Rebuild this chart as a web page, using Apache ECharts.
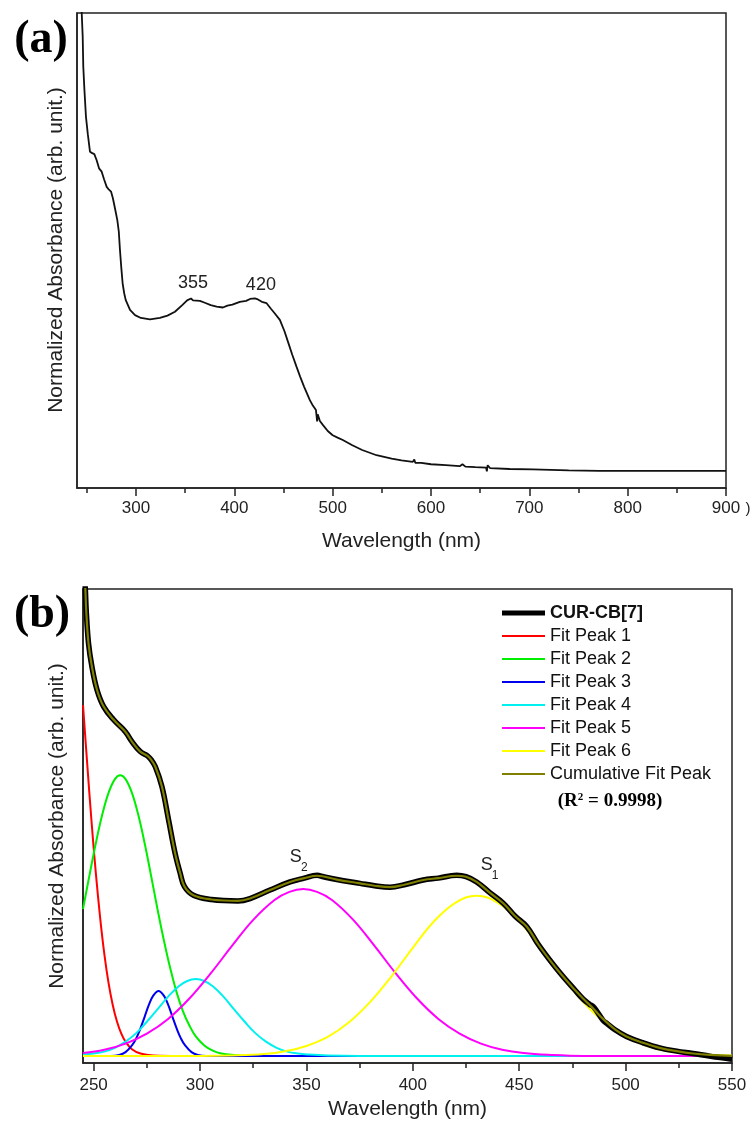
<!DOCTYPE html>
<html>
<head>
<meta charset="utf-8">
<script src="https://cdn.jsdelivr.net/npm/echarts@6/dist/echarts.min.js"></script>
<style>
html,body{margin:0;padding:0;background:#fff;}
#main{width:756px;height:1130px;}
</style>
</head>
<body>
<div id="main"></div>
<script>
var sans = '"Liberation Sans", Arial, sans-serif';
var serif = '"Liberation Serif", "Times New Roman", serif';

// panel (a) ticks
var ticksA = [300, 400, 500, 600, 700, 800, 900];
var minorA = [250, 350, 450, 550, 650, 750, 850];
// panel (b) ticks
var ticksB = [250, 300, 350, 400, 450, 500, 550];
var minorB = [275, 325, 375, 425, 475, 525];

// (a) absorbance spectrum [nm, normalized]
var specA = [[244.3,1.05],[244.8,1.0],[245.8,0.95],[246.4,0.887],[247.5,0.84],[249.1,0.782],[251,0.745],[253.2,0.708],
  [255.5,0.705],[257.6,0.703],[260,0.69],[262.4,0.673],[265.1,0.666],[267.5,0.65],[270.2,0.634],[272.5,0.628],
  [274.6,0.624],[276.5,0.61],[278.6,0.589],[281,0.564],[282.5,0.54],[283.7,0.501],[285,0.465],[286.4,0.431],
  [288,0.41],[289.5,0.396],[291.8,0.385],[293.9,0.375],[299,0.364],[305,0.358],[314.2,0.355],[324.3,0.358],
  [332,0.363],[339.6,0.371],[347,0.385],[352,0.395],[355.9,0.399],[358,0.395],[360,0.397],[365,0.394],
  [370,0.39],[376,0.385],[382,0.382],[388.4,0.38],[393,0.384],[398,0.386],[405.6,0.392],[412,0.394],
  [416,0.398],[420.9,0.399],[424,0.397],[428,0.392],[432.8,0.389],[437,0.378],[441,0.368],[446.3,0.354],
  [451,0.33],[455,0.305],[459,0.28],[463.3,0.255],[467,0.234],[471,0.213],[476.8,0.185],[480,0.173],
  [483,0.164],[483.6,0.168],[484.2,0.14],[484.8,0.155],[487,0.141],[490,0.133],[495,0.12],[500,0.111],
  [505,0.106],[510.3,0.101],[520,0.09],[530,0.08],[544.6,0.069],[560,0.062],[570,0.058],[581.5,0.055],
  [583,0.06],[584,0.053],[590,0.053],[600,0.05],[615,0.048],[629.2,0.046],[632,0.05],[635,0.045],
  [645,0.044],[656,0.043],[656.8,0.035],[657.6,0.048],[660,0.042],[680,0.04],[703.4,0.039],[740,0.037],
  [771.5,0.036],[830,0.036],[900,0.036]];

// (b) measured spectrum and fit
var curCB = [[245.5,1.04],[246.1,1.0],[246.5,0.956],[247.6,0.885],[249.2,0.836],[251.6,0.787],[254.7,0.752],
  [259.4,0.724],[264.9,0.699],[268,0.678],[271.9,0.657],[275.3,0.648],[277,0.64],[279,0.625],[282.1,0.583],
  [285.2,0.513],[288.3,0.442],[290.7,0.4],[292.7,0.372],[296.9,0.354],[305.3,0.345],[317.8,0.342],
  [323.5,0.347],[332.9,0.365],[342.3,0.382],[349,0.39],[355,0.396],[358,0.393],[364.3,0.387],[375.2,0.379],
  [382,0.374],[389.3,0.371],[396,0.376],[404.9,0.386],[412,0.39],[420.6,0.396],[425,0.393],[430,0.382],
  [436,0.36],[442.5,0.337],[448,0.31],[453.5,0.288],[459,0.25],[464.4,0.217],[470.1,0.185],[476,0.155],
  [480,0.135],[483,0.124],[485,0.118],[489.4,0.09],[491,0.084],[495,0.07],[500.4,0.056],[508,0.043],
  [516,0.032],[524,0.025],[531.7,0.02],[540,0.014],[550,0.008]];
var cumFit = [[245.5,1.04],[246.1,1.0],[246.5,0.956],[247.6,0.885],[249.2,0.836],[251.6,0.787],[254.7,0.752],
  [259.4,0.724],[264.9,0.699],[268,0.678],[271.9,0.657],[275.3,0.648],[277,0.64],[279,0.625],[282.1,0.583],
  [285.2,0.513],[288.3,0.442],[290.7,0.4],[292.7,0.372],[296.9,0.354],[305.3,0.345],[317.8,0.342],
  [323.5,0.347],[332.9,0.365],[342.3,0.382],[349,0.39],[355,0.395],[364.3,0.387],[375.2,0.379],
  [382,0.374],[389.3,0.371],[396,0.376],[404.9,0.386],[412,0.39],[420.6,0.395],[425,0.393],[430,0.382],
  [436,0.36],[442.5,0.337],[448,0.31],[453.5,0.288],[459,0.25],[464.4,0.217],[470.1,0.185],[476,0.155],
  [480,0.136],[485,0.114],[489.4,0.093],[495,0.071],[500.4,0.056],[508,0.043],[516,0.032],[524,0.025],
  [531.7,0.02],[540,0.017],[550,0.015]];
var peak1 = [[245,0.755],[247,0.63],[249,0.51],[251,0.402],[253,0.309],[255,0.231],[257,0.169],[259,0.122],
  [261,0.087],[263,0.062],[265,0.045],[268,0.029],[272,0.02],[278,0.016],[290,0.015],[550,0.015]];
var peak2 = [[245,0.325],[248,0.395],[251,0.463],[254,0.523],[257,0.57],[260,0.599],[262.5,0.607],[265,0.599],
  [268,0.57],[271,0.523],[274,0.463],[277,0.395],[280,0.325],[283,0.259],[286,0.2],[289,0.149],[292,0.109],
  [295,0.079],[298,0.056],[302,0.037],[306,0.026],[310,0.02],[316,0.017],[325,0.015],[550,0.015]];
var peak3 = [[245,0.015],[258,0.015],[262,0.017],[265,0.023],[268,0.037],[270,0.052],[272,0.073],[274,0.098],
  [276,0.123],[278,0.142],[280.5,0.152],[283,0.142],[285,0.123],[287,0.098],[289,0.073],[291,0.052],
  [293,0.037],[296,0.023],[299,0.017],[303,0.015],[550,0.015]];
var peak4 = [[245,0.018],[250,0.02],[255,0.024],[260,0.032],[265,0.045],[270,0.063],[275,0.087],[280,0.113],
  [285,0.14],[290,0.162],[294,0.173],[298,0.177],[302,0.173],[306,0.162],[311,0.14],[316,0.113],[321,0.087],
  [326,0.063],[331,0.045],[336,0.032],[341,0.024],[346,0.02],[351,0.018],[360,0.016],[375,0.015],[550,0.015]];
var peak5 = [[245,0.021],[255,0.028],[265,0.041],[275,0.062],[285,0.093],[295,0.136],[305,0.189],[315,0.247],
  [325,0.302],[335,0.344],[342,0.361],[348.5,0.367],[355,0.361],[362,0.344],[372,0.302],[382,0.247],
  [392,0.189],[402,0.136],[412,0.093],[422,0.062],[432,0.041],[442,0.028],[452,0.021],[465,0.017],
  [480,0.015],[550,0.015]];
var peak6 = [[245,0.015],[300,0.015],[315,0.016],[330,0.019],[340,0.025],[350,0.036],[360,0.055],[370,0.086],
  [380,0.129],[390,0.183],[400,0.243],[410,0.299],[420,0.338],[430,0.353],[440,0.338],[450,0.299],
  [460,0.243],[470,0.183],[480,0.129],[490,0.086],[500,0.055],[510,0.036],[520,0.025],[530,0.019],
  [540,0.017],[550,0.016]];

// annotation anchors (data coordinates)
var notesA = [{value: [357.9, 0.432], name: '355'}, {value: [427, 0.427], name: '420'}];
var notesB = [{value: [345.0, 0.434], name: 'S'}, {value: [434.7, 0.418], name: 'S'}];
var subsB = [{value: [349.0, 0.4125], name: '2'}, {value: [438.7, 0.3956], name: '1'}];

var legendNames = ['CUR-CB[7]', 'Fit Peak 1', 'Fit Peak 2', 'Fit Peak 3', 'Fit Peak 4',
  'Fit Peak 5', 'Fit Peak 6', 'Cumulative Fit Peak'];

// line-shaped legend icons in a 43x14 box (corner specks fix the box size)
var thinIcon = 'path://M0,0L0.1,0L0,0.1Z M0,6H43V8H0Z M43,14L42.9,14L43,13.9Z';
var thickIcon = 'path://M0,0L0.1,0L0,0.1Z M0,4.5H43V9.5H0Z M43,14L42.9,14L43,13.9Z';

function xAxes(grid, min, max, major, minor, margin, gap) {
  return [{
    gridIndex: grid, type: 'value', position: 'bottom', min: min, max: max,
    axisLine: {lineStyle: {color: '#222', width: 1.5}},
    axisTick: {customValues: major, length: 8, lineStyle: {color: '#222', width: 1.5}},
    axisLabel: {customValues: major, margin: margin, fontSize: 17, color: '#222', fontFamily: sans,
      showMinLabel: true, showMaxLabel: true, hideOverlap: false},
    splitLine: {show: false},
    name: 'Wavelength (nm)', nameLocation: 'middle', nameGap: gap,
    nameTextStyle: {fontSize: 21, color: '#222', fontFamily: sans}
  }, {
    gridIndex: grid, type: 'value', position: 'bottom', min: min, max: max,
    axisLine: {show: false},
    axisTick: {customValues: minor, length: 5, lineStyle: {color: '#222', width: 1.5}},
    axisLabel: {show: false},
    splitLine: {show: false}
  }];
}

function yAxis(grid) {
  return {
    gridIndex: grid, type: 'value', min: 0, max: 1,
    axisLine: {show: true, lineStyle: {color: '#222', width: 1.5}},
    axisTick: {show: false}, axisLabel: {show: false}, splitLine: {show: false}
  };
}

function fit(name, data, color, width, z) {
  return {
    name: name, type: 'line', xAxisIndex: 2, yAxisIndex: 1, data: data,
    symbol: 'none', smooth: 0.4, z: z,
    lineStyle: {color: color, width: width}, itemStyle: {color: color}
  };
}

function notes(xi, yi, data, size) {
  return {
    type: 'scatter', xAxisIndex: xi, yAxisIndex: yi, data: data, symbolSize: 1, z: 6,
    itemStyle: {color: 'rgba(0,0,0,0)'}, silent: true,
    label: {show: true, position: 'inside', formatter: '{b}', fontSize: size, color: '#222',
      fontFamily: sans, opacity: 1}
  };
}

var chart = echarts.init(document.getElementById('main'), null, {renderer: 'canvas'});
var option = {
  animation: false,
  backgroundColor: '#fff',
  grid: [
    {left: 77, top: 13, width: 649, height: 475, show: true, borderColor: '#222', borderWidth: 1.5,
      containLabel: false, outerBoundsMode: 'none'},
    {left: 83, top: 589, width: 649, height: 474, show: true, borderColor: '#222', borderWidth: 1.5,
      containLabel: false, outerBoundsMode: 'none'}
  ],
  xAxis: xAxes(0, 240, 900, ticksA, minorA, 12, 43).concat(xAxes(1, 245, 550, ticksB, minorB, 14, 36)),
  yAxis: [yAxis(0), yAxis(1)],
  legend: {
    orient: 'vertical', left: 497, top: 596.5, itemWidth: 43, itemHeight: 14, itemGap: 0,
    symbolKeepAspect: false,
    itemStyle: {borderWidth: 0},
    textStyle: {fontSize: 18, color: '#111', fontFamily: sans, lineHeight: 23},
    data: legendNames.map(function (n, i) {
      return i === 0 ? {name: n, icon: thickIcon, textStyle: {fontWeight: 'bold'}} : {name: n, icon: thinIcon};
    }),
    selectedMode: false
  },
  series: [
    {
      type: 'line', xAxisIndex: 0, yAxisIndex: 0, data: specA, symbol: 'none',
      lineStyle: {color: '#111', width: 1.8}
    },
    notes(0, 0, notesA, 18),
    fit('Fit Peak 1', peak1, '#ff0000', 2, 2),
    fit('Fit Peak 2', peak2, '#00ee00', 2, 2),
    fit('Fit Peak 3', peak3, '#0000ee', 2, 2),
    fit('Fit Peak 4', peak4, '#00f0f0', 2, 2),
    fit('Fit Peak 5', peak5, '#ff00ff', 2, 2),
    fit('Fit Peak 6', peak6, '#ffff00', 2, 2),
    fit('CUR-CB[7]', curCB, '#000000', 5.5, 3),
    fit('Cumulative Fit Peak', cumFit, '#7f7f00', 2.2, 4),
    notes(2, 1, notesB, 18),
    notes(2, 1, subsB, 12)
  ],
  graphic: [
    {type: 'text', x: 41, y: 40, style: {text: '(a)', font: 'bold 46px ' + serif, fill: '#000',
      textAlign: 'center', textVerticalAlign: 'middle'}},
    {type: 'text', x: 42, y: 615, style: {text: '(b)', font: 'bold 46px ' + serif, fill: '#000',
      textAlign: 'center', textVerticalAlign: 'middle'}},
    {type: 'text', x: 56, y: 250, rotation: Math.PI / 2, style: {text: 'Normalized Absorbance (arb. unit.)',
      font: '21px ' + sans, fill: '#222', textAlign: 'center', textVerticalAlign: 'middle'}},
    {type: 'text', x: 57, y: 826, rotation: Math.PI / 2, style: {text: 'Normalized Absorbance (arb. unit.)',
      font: '21px ' + sans, fill: '#222', textAlign: 'center', textVerticalAlign: 'middle'}},
    {type: 'text', x: 748, y: 509, style: {text: ')', font: '15px ' + sans, fill: '#222',
      textAlign: 'center', textVerticalAlign: 'middle'}},
    {type: 'text', x: 610, y: 801, style: {
      text: '{a|(R}{s|2}{a| = 0.9998)}', textAlign: 'center', textVerticalAlign: 'middle',
      rich: {
        a: {font: 'bold 19px ' + serif, fill: '#000', verticalAlign: 'bottom'},
        s: {font: 'bold 11px ' + serif, fill: '#000', verticalAlign: 'top'}
      }
    }}
  ]
};
chart.setOption(option);
</script>
</body>
</html>
